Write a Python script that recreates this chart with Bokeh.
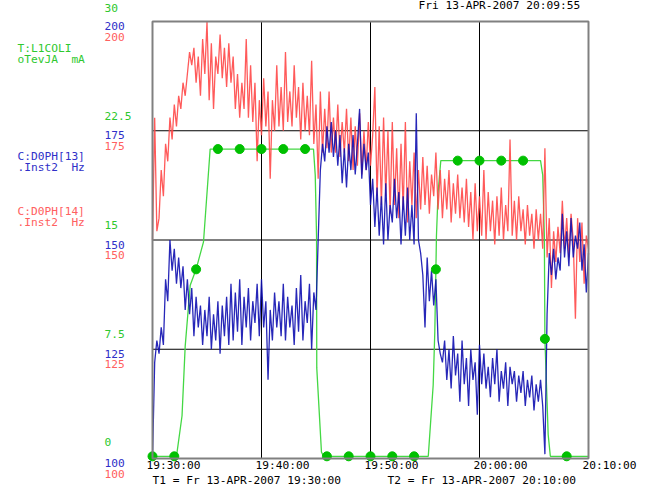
import pandas as pd
from bokeh.plotting import figure
from bokeh.models import Range1d, Label
from bokeh.embed import file_html
from bokeh.resources import INLINE

# ---------------- data ----------------
start = pd.Timestamp("2007-04-13 19:30:00")
end = pd.Timestamp("2007-04-13 20:10:00")
sample_step = "12s"

# C:D0PH[14] .Inst2 (Hz) - red
red_vals = [
    150, 178, 152, 155, 166, 160, 172, 168, 178, 173,
    181, 176, 183, 180, 186, 183, 188, 193, 190, 194,
    186, 192, 183, 196, 188, 200, 182, 195, 180, 192,
    188, 197, 187, 194, 185, 195, 186, 192, 180, 188,
    178, 186, 180, 196, 178, 190, 177, 186, 168, 182,
    174, 187, 176, 184, 164, 182, 175, 190, 176, 185,
    175, 193, 177, 184, 176, 190, 178, 185, 173, 186,
    175, 183, 174, 191, 172, 181, 164, 184, 170, 180,
    171, 184, 170, 178, 170, 181, 169, 177, 170, 180,
    168, 178, 166, 176, 167, 179, 165, 175, 166, 177,
    167, 174, 185, 160, 176, 158, 178, 160, 175, 156,
    177, 158, 171, 155, 172, 157, 177, 154, 168, 158,
    170, 155, 166, 157, 169, 158, 167, 156, 165, 160,
    170, 157, 166, 155, 164, 157, 166, 154, 163, 156,
    165, 155, 162, 154, 164, 153, 161, 150, 163, 152,
    160, 151, 166, 150, 161, 152, 159, 149, 160, 151,
    162, 150, 158, 152, 173, 151, 159, 150, 160, 152,
    157, 149, 158, 151, 156, 148, 157, 150, 156, 148,
    171, 146, 155, 139, 152, 145, 153, 147, 159, 148,
    155, 146, 156, 150, 132, 155, 145, 154, 140, 151,
    148,
]

# C:D0PH[13] .Inst2 (Hz) - blue
blue_vals = [
    100, 122, 127, 124, 130, 126, 141, 136, 150, 143,
    148, 140, 146, 139, 144, 134, 141, 133, 139, 128,
    137, 130, 135, 126, 134, 128, 137, 125, 133, 127,
    136, 124, 135, 128, 137, 126, 140, 127, 138, 129,
    141, 126, 137, 130, 139, 127, 136, 131, 140, 128,
    141, 130, 136, 118, 134, 127, 138, 130, 136, 128,
    140, 127, 137, 130, 135, 126, 139, 129, 142, 127,
    136, 131, 140, 125, 138, 134, 150, 166, 172, 168,
    176, 170, 177, 169, 175, 167, 174, 163, 171, 162,
    172, 166, 174, 165, 172, 180, 164, 172, 166, 170,
    158, 164, 153, 162, 151, 160, 149, 163, 150, 158,
    154, 164, 155, 161, 149, 160, 151, 162, 150, 158,
    149, 179, 150, 147, 142, 130, 146, 136, 143, 135,
    141, 127, 124, 122, 127, 118, 125, 116, 128, 119,
    124, 113, 127, 117, 123, 112, 125, 118, 122, 110,
    126, 117, 124, 116, 121, 114, 123, 117, 125, 113,
    120, 116, 122, 112, 121, 117, 120, 113, 119, 115,
    120, 112, 118, 114, 119, 111, 117, 113, 118, 112,
    101, 133, 147, 142, 148, 141, 146, 143, 156, 146,
    152, 144, 155, 146, 151, 148, 154, 143, 149, 138,
    147,
]

# T:L1COLI oTevJA (mA) - green, breakpoints in minutes after 19:30
green_min = [0, 2.2, 2.71, 3.0, 3.46, 4.0, 4.68, 5.29,
             14.77, 14.93, 15.05, 15.07, 15.5, 15.69,
             25.3, 25.75, 25.9, 26.0, 26.05, 26.2, 26.45,
             35.6, 35.8, 35.95, 36.0, 36.3, 36.5, 40]
green_vals = [0, 0, 2.8, 7.6, 11.8, 12.9, 14.8, 21.2,
              21.2, 19.4, 15.2, 6.1, 0.3, 0,
              0, 4.9, 8.6, 12.9, 15.2, 18.2, 20.4,
              20.4, 19.4, 15.2, 8.1, 1.5, 0, 0]
marker_min = [0, 2, 4, 6, 8, 10, 12, 14, 16, 18,
              20, 22, 24, 26, 28, 30, 32, 34, 36, 38]
marker_vals = [0, 0, 12.9, 21.2, 21.2, 21.2, 21.2, 21.2, 0, 0,
               0, 0, 0, 12.9, 20.4, 20.4, 20.4, 20.4, 8.1, 0]

x_tick_min = [0, 10, 20, 30, 40]
x_tick_labels = ["19:30:00", "19:40:00", "19:50:00", "20:00:00", "20:10:00"]
hz_ticks = [100, 125, 150, 175, 200]
hz_tick_labels = ["100", "125", "150", "175", "200"]
ma_ticks = [0, 7.5, 15, 22.5, 30]
ma_tick_labels = ["0", "7.5", "15", "22.5", "30"]

NB = "\u00a0"
green_name = ["T:L1COLI", "oTevJA" + NB * 2 + "mA"]
blue_name = ["C:D0PH[13]", ".Inst2" + NB * 2 + "Hz"]
red_name = ["C:D0PH[14]", ".Inst2" + NB * 2 + "Hz"]
top_stamp = "Fri 13-APR-2007 20:09:55"
t1_text = "T1 = Fr 13-APR-2007 19:30:00"
t2_text = "T2 = Fr 13-APR-2007 20:10:00"

# ---------------- layout / styles ----------------
W, H = 649, 489
FRAME_L, FRAME_R, FRAME_T, FRAME_B = 152, 588, 21, 458   # pixel box of the chart
GREEN_ZERO_PX = 455.8

RED_LINE = "#FF4848"
BLUE_LINE = "#1010B0"
GREEN_LINE = "#44D844"
GREEN_DOT = "#00C000"
GREEN_TXT = "#2EC82E"
BLUE_TXT = "#3030C8"
RED_TXT = "#FF6060"
FONT = "DejaVu Sans Mono"
FS = "11.2px"


def ms(t):
    return t.value // 10**6


times = [ms(t) for t in pd.date_range(start, periods=len(red_vals), freq=sample_step)]
green_times = [ms(start + pd.Timedelta(minutes=m)) for m in green_min]
marker_times = [ms(start + pd.Timedelta(minutes=m)) for m in marker_min]
tick_times = [ms(start + pd.Timedelta(minutes=m)) for m in x_tick_min]

# ranges chosen so that the chart box lands on the pixel box above
x0, x1 = ms(start), ms(end)
px_per_ms = (FRAME_R - FRAME_L) / (x1 - x0)
xr = Range1d(x0 - FRAME_L / px_per_ms, x1 + (W - FRAME_R) / px_per_ms)
hz_lo, hz_hi = hz_ticks[0], hz_ticks[-1]
px_per_hz = (FRAME_B - FRAME_T) / (hz_hi - hz_lo)
yr = Range1d(hz_lo - (H - FRAME_B) / px_per_hz, hz_hi + FRAME_T / px_per_hz)
ma_lo, ma_hi = ma_ticks[0], ma_ticks[-1]
px_per_ma = (GREEN_ZERO_PX - FRAME_T) / (ma_hi - ma_lo)
ma_r = Range1d(ma_lo - (H - GREEN_ZERO_PX) / px_per_ma, ma_hi + FRAME_T / px_per_ma)

p = figure(width=W, height=H, output_backend="svg", toolbar_location=None,
           x_range=xr, y_range=yr, x_axis_type=None, y_axis_type=None,
           min_border=0, min_border_left=0, min_border_right=0,
           min_border_top=0, min_border_bottom=0)
p.extra_y_ranges = {"ma": ma_r}
p.background_fill_color = "white"
p.border_fill_color = "white"
p.outline_line_color = None
p.grid.visible = False

# grid lines and box
inner_x = tick_times[1:-1]
inner_y = hz_ticks[1:-1]
p.segment(x0=inner_x, y0=[hz_lo] * len(inner_x), x1=inner_x, y1=[hz_hi] * len(inner_x),
          line_color="black", line_width=1)
p.segment(x0=[x0] * len(inner_y), y0=inner_y, x1=[x1] * len(inner_y), y1=inner_y,
          line_color="black", line_width=1)

p.line(green_times, green_vals, color=GREEN_LINE, line_width=1.3, y_range_name="ma")
p.line(times, red_vals, color=RED_LINE, line_width=1.3, line_alpha=0.9)
p.line(times, blue_vals, color=BLUE_LINE, line_width=1.3, line_alpha=0.9)
p.scatter(marker_times, marker_vals, size=9, color=GREEN_DOT, y_range_name="ma")

p.quad(left=[x0], right=[x1], bottom=[hz_lo], top=[hz_hi], fill_color=None,
       line_color="#808080", line_width=2)


def lab(text, x, y, xo, yo, color, yrn="default"):
    p.add_layout(Label(x=x, y=y, x_offset=xo, y_offset=yo, text=text,
                       text_color=color, text_font=FONT, text_font_size=FS,
                       text_align="left", text_baseline="middle",
                       y_range_name=yrn))


# x tick labels
for t, s in zip(tick_times, x_tick_labels):
    lab(s, t, hz_lo, -6, -7, "black")

# left tick labels
for v, s in zip(ma_ticks, ma_tick_labels):
    lab(s, x0, v, -48, 14, GREEN_TXT, "ma")
for v, s in zip(hz_ticks, hz_tick_labels):
    lab(s, x0, v, -48, -4.5, BLUE_TXT)
    lab(s, x0, v, -48, -15, RED_TXT)

# legend texts
lab(green_name[0], x0, hz_hi, -135, -27, GREEN_TXT)
lab(green_name[1], x0, hz_hi, -135, -38, GREEN_TXT)
lab(blue_name[0], x0, hz_hi, -135, -135, BLUE_TXT)
lab(blue_name[1], x0, hz_hi, -135, -146, BLUE_TXT)
lab(red_name[0], x0, hz_hi, -135, -190, RED_TXT)
lab(red_name[1], x0, hz_hi, -135, -201, RED_TXT)

# header / footer
lab(top_stamp, x1, hz_hi, -170, 16.5, "black")
lab(t1_text, x0, hz_lo, 0, -22, "black")
lab(t2_text, x1, hz_lo, -201, -22, "black")

open("out.html", "w").write(file_html(p, INLINE))
